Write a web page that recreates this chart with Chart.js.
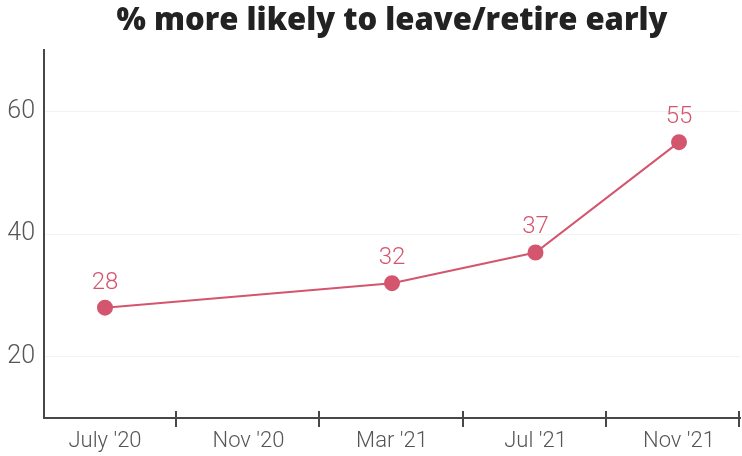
<!DOCTYPE html>
<html lang="en">
<head>
    <meta charset="UTF-8" />
    <title>Leave / retire early</title>
    <script src="https://cdn.jsdelivr.net/npm/chart.js"></script>
    <style>
        body {
            margin: 0;
            padding: 0;
            background: #fff;
        }
        .chart-box {
            width: 742px;
            height: 456px;
        }
    </style>
</head>
<body>
    <div class="chart-box">
        <canvas id="leaveChart"></canvas>
    </div>

    <script>
        // months counted from July 2020
        const tickMonths = [0, 4, 8, 12, 16];
        const tickLabels = ["July '20", "Nov '20", "Mar '21", "Jul '21", "Nov '21"];
        const surveyMonths = [0, 8, 12, 16];
        const moreLikely = [28, 32, 37, 55];
        const yTicks = [20, 40, 60];

        const lineColor = '#d4566e';
        const axisColor = '#474747';

        // tick marks sit between the month labels, plus one at the right end
        const tickMarks = {
            id: 'tickMarks',
            afterDraw(chart) {
                const ctx = chart.ctx;
                const x = chart.scales.x;
                const bottom = chart.chartArea.bottom;
                const marks = tickMonths.slice(1).map(m => m - 2).concat([x.max]);
                ctx.save();
                ctx.strokeStyle = axisColor;
                ctx.lineWidth = 2;
                marks.forEach(m => {
                    const px = Math.round(x.getPixelForValue(m)) - 1;
                    ctx.beginPath();
                    ctx.moveTo(px, bottom - 7);
                    ctx.lineTo(px, bottom + 9);
                    ctx.stroke();
                });
                ctx.restore();
            }
        };

        const valueLabels = {
            id: 'valueLabels',
            afterDatasetsDraw(chart) {
                const ctx = chart.ctx;
                const meta = chart.getDatasetMeta(0);
                ctx.save();
                ctx.fillStyle = lineColor;
                ctx.font = '300 24px Roboto';
                ctx.textAlign = 'center';
                ctx.textBaseline = 'bottom';
                meta.data.forEach((pt, i) => {
                    ctx.fillText(moreLikely[i], pt.x, pt.y - 13);
                });
                ctx.restore();
            }
        };

        new Chart(document.getElementById('leaveChart'), {
            type: 'line',
            data: {
                datasets: [{
                    data: surveyMonths.map((m, i) => ({ x: m, y: moreLikely[i] })),
                    borderColor: lineColor,
                    backgroundColor: lineColor,
                    borderWidth: 2,
                    pointRadius: 7,
                    pointHoverRadius: 7,
                    tension: 0
                }]
            },
            options: {
                responsive: true,
                maintainAspectRatio: false,
                animation: false,
                layout: { autoPadding: false, padding: { left: 0, right: 2, top: 0, bottom: 0 } },
                plugins: {
                    legend: { display: false },
                    tooltip: { enabled: false },
                    title: {
                        display: true,
                        text: '% more likely to leave/retire early',
                        fullSize: false,
                        color: '#222',
                        font: { family: 'Open Sans', size: 31, weight: '800', lineHeight: 1.2 },
                        padding: { top: 3, bottom: 10 }
                    }
                },
                scales: {
                    x: {
                        type: 'linear',
                        min: -1.7,
                        max: 17.7,
                        afterBuildTicks: scale => {
                            scale.ticks = tickMonths.map(v => ({ value: v }));
                        },
                        afterFit: scale => {
                            scale.height = 38;
                            scale.paddingLeft = 0;
                            scale.paddingRight = 0;
                        },
                        ticks: {
                            callback: (v, i) => tickLabels[i],
                            color: '#555',
                            font: { family: 'Roboto', size: 22, weight: '300' },
                            padding: 10,
                            maxRotation: 0
                        },
                        grid: { display: true, drawOnChartArea: false, drawTicks: false },
                        border: { color: axisColor, width: 2 }
                    },
                    y: {
                        min: 10,
                        max: 70,
                        afterBuildTicks: scale => {
                            scale.ticks = yTicks.map(v => ({ value: v }));
                        },
                        afterFit: scale => { scale.width = 44; },
                        ticks: {
                            color: '#555',
                            font: { family: 'Roboto', size: 25, weight: '300' },
                            padding: 9
                        },
                        grid: { color: '#f2f2f2', lineWidth: 1, drawTicks: false },
                        border: { color: axisColor, width: 2 }
                    }
                }
            },
            plugins: [tickMarks, valueLabels]
        });
    </script>
</body>
</html>
